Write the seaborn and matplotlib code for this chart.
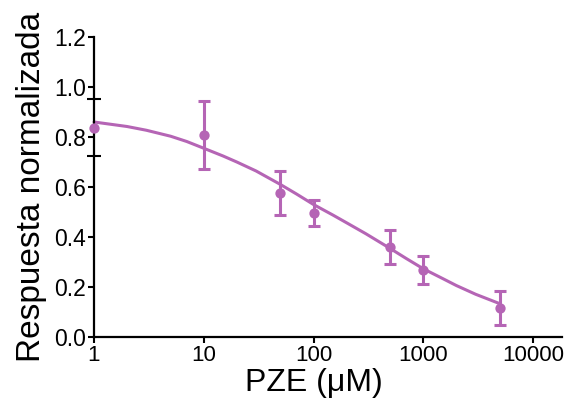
import matplotlib
matplotlib.use("Agg")
import matplotlib.pyplot as plt
import seaborn as sns
import numpy as np
import pandas as pd

# Data
conc = [1, 10, 50, 100, 500, 1000, 5000]
resp = [0.837, 0.808, 0.575, 0.497, 0.361, 0.268, 0.115]
err = [0.0, 0.134, 0.088, 0.053, 0.068, 0.057, 0.068]

# Fitted curve
curve_x = [1, 2, 3, 5, 7, 10, 15, 20, 30, 50, 70, 100, 150, 200, 300, 500, 700, 1000, 1500, 2000, 3000, 5000]
curve_y = [0.860, 0.842, 0.827, 0.803, 0.782, 0.755, 0.724, 0.700, 0.664, 0.610, 0.572, 0.530, 0.488, 0.457, 0.413, 0.354, 0.314, 0.273, 0.234, 0.206, 0.171, 0.133]

x_ticks = [1, 10, 100, 1000, 10000]
x_tick_labels = ["1", "10", "100", "1000", "10000"]
y_ticks = [0.0, 0.2, 0.4, 0.6, 0.8, 1.0, 1.2]
y_tick_labels = ["0.0", "0.2", "0.4", "0.6", "0.8", "1.0", "1.2"]
y_cross_ticks = [0.724, 0.952]

color = "#b565b5"

sns.set_theme(style="white")
plt.rcParams['font.family'] = ['Liberation Sans', 'DejaVu Sans']

fig = plt.figure(figsize=(5.74, 4.03), dpi=100)
ax = fig.add_axes([94/574, 1-337/403, (562-94)/574, (337-37)/403])

df_curve = pd.DataFrame({"x": curve_x, "y": curve_y})
df_pts = pd.DataFrame({"x": conc, "y": resp, "e": err})
df_err = df_pts[df_pts["e"] > 0]

sns.lineplot(data=df_curve, x="x", y="y", ax=ax, color=color, lw=2.2, clip_on=False)
ax.errorbar(df_err["x"], df_err["y"], yerr=df_err["e"], fmt="none", ecolor=color,
            elinewidth=2.2, capsize=4.5, capthick=2.2, clip_on=False)
sns.scatterplot(data=df_pts, x="x", y="y", ax=ax, color=color, s=55,
                edgecolor=color, linewidth=0, clip_on=False, zorder=5)

ax.set_xscale("log")
ax.set_xlim(1, 10 ** ((562 - 94) / 109.75))
ax.set_ylim(0, 1.2)
ax.set_xticks(x_ticks)
ax.set_xticklabels(x_tick_labels)
ax.xaxis.set_minor_locator(matplotlib.ticker.NullLocator())
ax.set_yticks(y_ticks)
ax.set_yticklabels(y_tick_labels)
ax.set_yticks(y_cross_ticks, minor=True)

for s in ["top", "right"]:
    ax.spines[s].set_visible(False)
for s in ["left", "bottom"]:
    ax.spines[s].set_color("black")
    ax.spines[s].set_linewidth(1.6)

ax.tick_params(axis="both", which="major", direction="out", length=4, width=1.5,
               colors="black", pad=2, left=True, bottom=True)
ax.tick_params(axis="x", which="major", labelsize=16)
ax.tick_params(axis="y", which="major", labelsize=16.5)
ax.tick_params(axis="y", which="minor", direction="inout", length=10, width=1.5,
               colors="black", left=True)

ax.set_xlabel("PZE (μM)", fontsize=23, labelpad=2, color="black")
ax.xaxis.set_label_coords((533 - 94) / (562 - 94) / 2, -0.105, transform=ax.transAxes)
ax.xaxis.label.set_va("top")
ax.set_ylabel("Respuesta normalizada", fontsize=24, labelpad=5, color="black")

fig.savefig("out.png", dpi=100)
